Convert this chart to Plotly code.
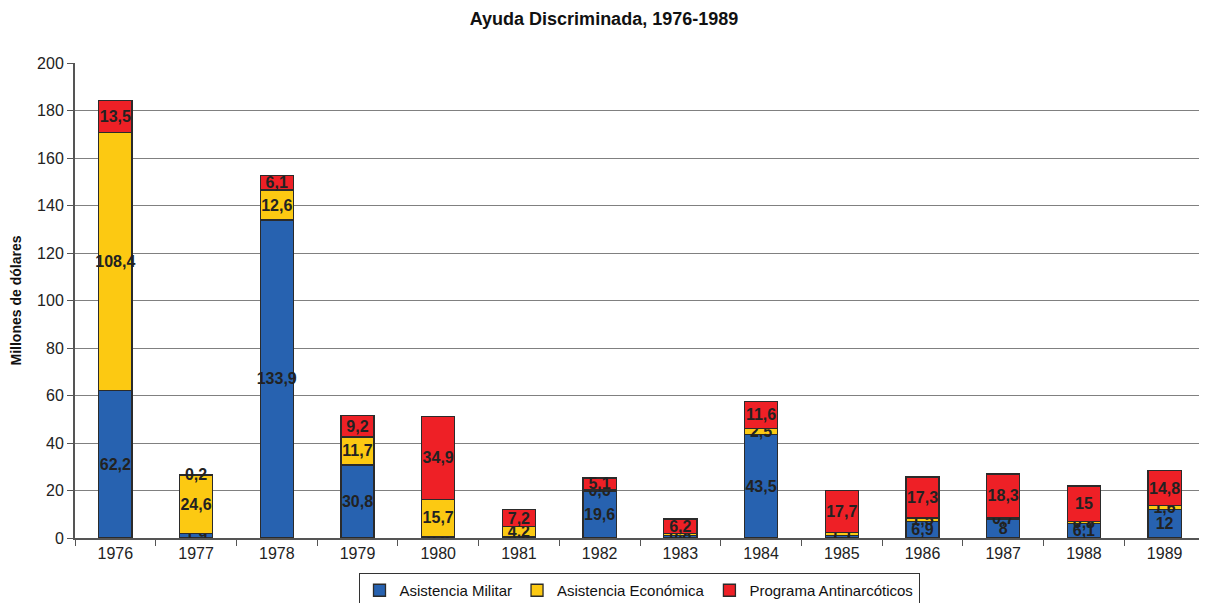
import plotly.graph_objects as go

years = ["1976", "1977", "1978", "1979", "1980", "1981", "1982", "1983", "1984", "1985", "1986", "1987", "1988", "1989"]
militar = [62.2, 1.9, 133.9, 30.8, 0.6, 0.6, 19.6, 1.0, 43.5, 1.1, 6.9, 8, 6.1, 12]
economica = [108.4, 24.6, 12.6, 11.7, 15.7, 4.2, 0.6, 0.8, 2.5, 1.1, 1.5, 0.7, 0.8, 1.6]
antinarcoticos = [13.5, 0.2, 6.1, 9.2, 34.9, 7.2, 5.1, 6.2, 11.6, 17.7, 17.3, 18.3, 15, 14.8]

series = [
    ("Asistencia Militar", militar, "#2762B0"),
    ("Asistencia Económica", economica, "#FCC912"),
    ("Programa Antinarcóticos", antinarcoticos, "#EE2026"),
]

def fmt(v):
    return f"{v:g}".replace(".", ",")

FONT = "Liberation Sans, Arial, sans-serif"
W, H = 1199, 595  # page body has an 8px default margin

fig = go.Figure()
for name, vals, color in series:
    fig.add_trace(go.Bar(
        x=years, y=vals, name=name,
        marker=dict(color=color, line=dict(color="#2b2b2b", width=1.3)),
        text=[fmt(v) for v in vals],
        textposition="inside", insidetextanchor="middle", textangle=0,
        constraintext="none",
        textfont=dict(family=FONT, size=16, color="#222222", weight="bold"),
    ))

fig.update_layout(
    barmode="stack",
    bargap=0.59,
    width=W, height=H,
    margin=dict(l=67, r=2, t=55, b=65, autoexpand=False),
    paper_bgcolor="white", plot_bgcolor="white",
    font=dict(family=FONT, size=15, color="#222222"),
    uniformtext=dict(minsize=16, mode="show"),
    title=dict(text="<b>Ayuda Discriminada, 1976-1989</b>", x=596 / W, xref="container", xanchor="center",
               y=1 - 11 / H, yref="container", yanchor="middle", font=dict(size=18, color="#111111")),
    yaxis=dict(range=[0, 200], dtick=20, showgrid=True, gridcolor="#808080", gridwidth=1,
               showline=True, linecolor="#555555", linewidth=2, ticks="outside", ticklen=6,
               tickcolor="#555555", tickfont=dict(size=16, color="#222222"), automargin=False,
               title=dict(text="<b>Millones de dólares</b>", font=dict(size=14, color="#111111"), standoff=28),
               zeroline=False),
    xaxis=dict(showline=True, linecolor="#555555", linewidth=2, ticks="outside", ticklen=6,
               tickcolor="#555555", tickson="boundaries", tickfont=dict(size=16, color="#222222"),
               automargin=False),
    legend=dict(orientation="h", x=631 / W, xanchor="center", xref="container",
                y=1 - 582.5 / H, yref="container", yanchor="middle", traceorder="normal",
                bordercolor="#333333", borderwidth=1, font=dict(size=15, color="#111111"),
                itemwidth=30, tracegroupgap=0),
)

fig.write_html("out.html")
